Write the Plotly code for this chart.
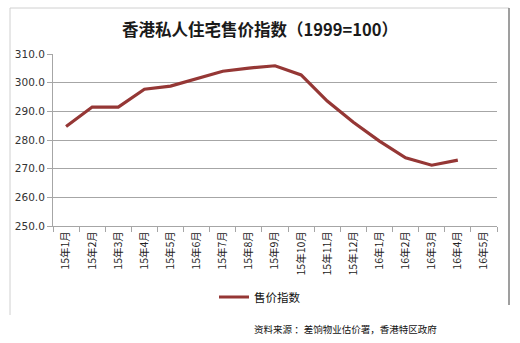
import plotly.graph_objects as go

# Monthly Hong Kong private domestic price index (1999 = 100)
months = ["15年1月", "15年2月", "15年3月", "15年4月", "15年5月", "15年6月",
          "15年7月", "15年8月", "15年9月", "15年10月", "15年11月", "15年12月",
          "16年1月", "16年2月", "16年3月", "16年4月", "16年5月"]
price_index = [284.7, 291.5, 291.5, 297.7, 298.8, 301.4,
               304.0, 305.1, 305.9, 302.7, 293.6, 286.2,
               279.6, 273.8, 271.2, 273.0, None]
y_ticks = [250, 260, 270, 280, 290, 300, 310]

FONT = "Noto Sans CJK SC"
LINE_RED = "#953735"
GRID = "#a6a6a6"

fig = go.Figure()
fig.add_trace(go.Scatter(
    x=months, y=price_index, mode="lines", name="售价指数",
    line=dict(color=LINE_RED, width=3.2),
))

fig.update_layout(
    width=520, height=343,
    margin=dict(l=53, r=23, t=54, b=117),
    paper_bgcolor="white", plot_bgcolor="white",
    font=dict(family=FONT, color="#222222"),
    title=dict(
        text="<b>香港私人住宅售价指数（1999=100）</b>",
        x=0.5, xanchor="center", y=1 - 30 / 343, yanchor="middle",
        font=dict(family=FONT, size=16.5, color="#1a1a1a"),
    ),
    showlegend=True,
    legend=dict(
        orientation="h", xref="container", yref="container",
        x=214 / 520, xanchor="left",
        y=1 - 297 / 343, yanchor="middle",
        font=dict(family=FONT, size=11.5, color="#111111"),
        itemwidth=30, bgcolor="rgba(0,0,0,0)",
    ),
)

fig.update_xaxes(
    type="category", tickangle=-90, tickson="boundaries",
    ticks="outside", ticklen=5, tickcolor=GRID,
    showline=True, linecolor=GRID, linewidth=1,
    showgrid=False, range=[-0.5, 16.5], automargin=False,
    tickfont=dict(family=FONT, size=10.5, color="#222222"),
)
fig.update_yaxes(
    range=[250, 310], tickvals=y_ticks, tickformat=".1f",
    ticks="outside", ticklen=5, tickcolor=GRID,
    showline=True, linecolor=GRID, linewidth=1,
    showgrid=True, gridcolor=GRID, gridwidth=1,
    zeroline=False, automargin=False,
    tickfont=dict(family="DejaVu Sans", size=10.5, color="#333333"),
)

# Chart frame: light left/top edges and a darker right edge
fig.add_shape(type="line", xref="paper", yref="paper",
              x0=-43 / 444, x1=-43 / 444, y0=(226 - 315) / 172, y1=(226 - 8) / 172,
              line=dict(color="#d0d0d0", width=1))
fig.add_shape(type="line", xref="paper", yref="paper",
              x0=-43 / 444, x1=456 / 444, y0=(226 - 8) / 172, y1=(226 - 8) / 172,
              line=dict(color="#d0d0d0", width=1))
fig.add_shape(type="line", xref="paper", yref="paper",
              x0=456 / 444, x1=456 / 444, y0=(226 - 305) / 172, y1=(226 - 8) / 172,
              line=dict(color="#7f7f7f", width=1.5))

fig.add_annotation(
    text="资料来源 ：差饷物业估价署，香港特区政府",
    xref="paper", yref="paper", x=(252 - 53) / 444, xanchor="left",
    y=(226 - 329) / 172, yanchor="middle", showarrow=False,
    font=dict(family=FONT, size=9.5, color="#111111"),
)

fig.write_html("out.html")
